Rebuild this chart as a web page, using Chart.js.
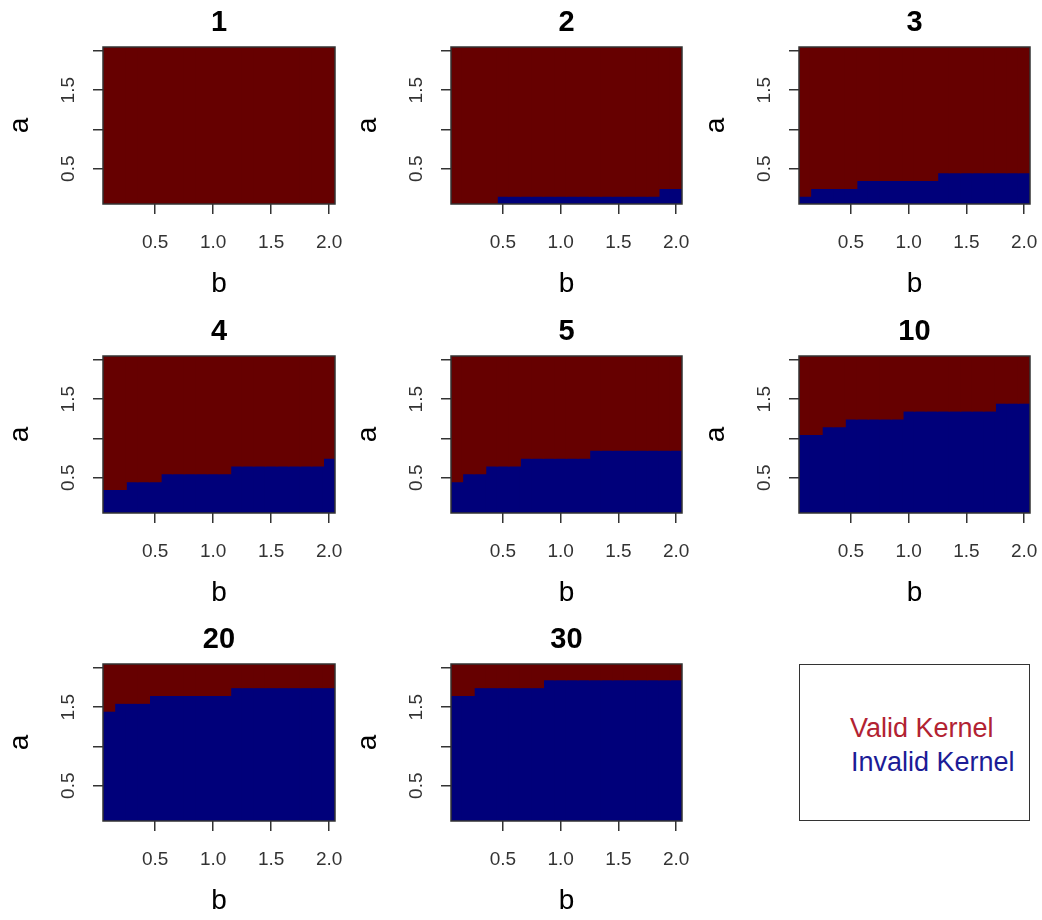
<!DOCTYPE html>
<html lang="en">
<head>
  <meta charset="UTF-8" />
  <title>Kernel validity over (a, b)</title>
  <script src="https://cdn.jsdelivr.net/npm/chart.js"></script>
  <style>
    body {
      margin: 0;
      background: #fff;
      font-family: "Liberation Sans", Arial, sans-serif;
    }
    #grid {
      position: relative;
      width: 1042px;
      height: 920px;
    }
    .panel {
      position: absolute;
    }
    #legendBox {
      position: absolute;
      border: 1.5px solid #333;
      box-sizing: border-box;
    }
    #legendBox span {
      position: absolute;
      font-size: 27px;
      line-height: 34px;
      white-space: nowrap;
    }
  </style>
</head>
<body>
  <div id="grid">
    <div id="legendBox">
      <span id="validLabel"></span>
      <span id="invalidLabel"></span>
    </div>
  </div>

  <script>
    // b grid (columns of every panel)
    const bValues = [0.1, 0.2, 0.3, 0.4, 0.5, 0.6, 0.7, 0.8, 0.9, 1.0,
                     1.1, 1.2, 1.3, 1.4, 1.5, 1.6, 1.7, 1.8, 1.9, 2.0];
    const aStep = 0.1;
    const aMin = 0.05, aMax = 2.05;
    const bMin = 0.05, bMax = 2.05;

    // largest a that is still an invalid kernel, for each b (0 = none)
    const limit1  = [0, 0, 0, 0, 0, 0, 0, 0, 0, 0, 0, 0, 0, 0, 0, 0, 0, 0, 0, 0];
    const limit2  = [0, 0, 0, 0, 0.1, 0.1, 0.1, 0.1, 0.1, 0.1, 0.1, 0.1, 0.1, 0.1, 0.1, 0.1, 0.1, 0.1, 0.2, 0.2];
    const limit3  = [0.1, 0.2, 0.2, 0.2, 0.2, 0.3, 0.3, 0.3, 0.3, 0.3, 0.3, 0.3, 0.4, 0.4, 0.4, 0.4, 0.4, 0.4, 0.4, 0.4];
    const limit4  = [0.3, 0.3, 0.4, 0.4, 0.4, 0.5, 0.5, 0.5, 0.5, 0.5, 0.5, 0.6, 0.6, 0.6, 0.6, 0.6, 0.6, 0.6, 0.6, 0.7];
    const limit5  = [0.4, 0.5, 0.5, 0.6, 0.6, 0.6, 0.7, 0.7, 0.7, 0.7, 0.7, 0.7, 0.8, 0.8, 0.8, 0.8, 0.8, 0.8, 0.8, 0.8];
    const limit10 = [1.0, 1.0, 1.1, 1.1, 1.2, 1.2, 1.2, 1.2, 1.2, 1.3, 1.3, 1.3, 1.3, 1.3, 1.3, 1.3, 1.3, 1.4, 1.4, 1.4];
    const limit20 = [1.4, 1.5, 1.5, 1.5, 1.6, 1.6, 1.6, 1.6, 1.6, 1.6, 1.6, 1.7, 1.7, 1.7, 1.7, 1.7, 1.7, 1.7, 1.7, 1.7];
    const limit30 = [1.6, 1.6, 1.7, 1.7, 1.7, 1.7, 1.7, 1.7, 1.8, 1.8, 1.8, 1.8, 1.8, 1.8, 1.8, 1.8, 1.8, 1.8, 1.8, 1.8];

    const panelTitles = ["1", "2", "3", "4", "5", "10", "20", "30"];
    const panelLimits = [limit1, limit2, limit3, limit4, limit5, limit10, limit20, limit30];

    const xTicks = [0.5, 1.0, 1.5, 2.0];
    const yTicks = [0.5, 1.0, 1.5, 2.0];
    const yTickLabels = ["0.5", "", "1.5", ""];

    const legendLabels = ["Valid Kernel", "Invalid Kernel"];

    const validColor = "#660000";
    const invalidColor = "#00007a";

    // panel layout (plot region of each cell)
    const plotLeft = [103, 451, 799];
    const plotTop = [47, 356, 664];
    const plotW = [232, 231, 231];
    const plotH = 157;
    const leftRoom = 103, topRoom = 47, bottomRoom = 100, rightRoom = 30;

    Chart.defaults.font.family = '"Liberation Sans", Arial, sans-serif';

    const boxPlugin = {
      id: "plotBox",
      afterDatasetsDraw(chart) {
        const { ctx, chartArea: a } = chart;
        ctx.save();
        ctx.strokeStyle = "#333";
        ctx.lineWidth = 1.5;
        ctx.strokeRect(a.left, a.top, a.right - a.left, a.bottom - a.top);
        ctx.restore();
      }
    };

    function makePanel(i) {
      const col = i % 3, row = Math.floor(i / 3);
      const limits = panelLimits[i];

      const holder = document.createElement("div");
      holder.className = "panel";
      const w = leftRoom + plotW[col] + rightRoom;
      const h = topRoom + plotH + bottomRoom;
      holder.style.left = (plotLeft[col] - leftRoom) + "px";
      holder.style.top = (plotTop[row] - topRoom) + "px";
      const canvas = document.createElement("canvas");
      canvas.width = w;
      canvas.height = h;
      holder.appendChild(canvas);
      document.getElementById("grid").appendChild(holder);

      const invalidBars = bValues.map((b, j) => ({ x: b, y: [aMin, limits[j] + aStep / 2] }));
      const validBars = bValues.map((b, j) => ({ x: b, y: [limits[j] + aStep / 2, aMax] }));

      // valid cells first, invalid on top; slight inflate hides the seams between columns
      new Chart(canvas, {
        type: "bar",
        data: {
          datasets: [
            { label: legendLabels[0], data: validBars, backgroundColor: validColor,
              grouped: false, barPercentage: 1, categoryPercentage: 1, borderWidth: 0, inflateAmount: 0.6 },
            { label: legendLabels[1], data: invalidBars, backgroundColor: invalidColor,
              grouped: false, barPercentage: 1, categoryPercentage: 1, borderWidth: 0, inflateAmount: 0.6 }
          ]
        },
        options: {
          responsive: false,
          animation: false,
          layout: { padding: { left: 0, top: 0, right: rightRoom, bottom: 0 } },
          plugins: {
            legend: { display: false },
            tooltip: { enabled: false },
            title: {
              display: true,
              text: panelTitles[i],
              fullSize: false,
              color: "#000",
              font: { size: 29, weight: "bold" },
              padding: { top: 5.5, bottom: 6.7 }
            }
          },
          scales: {
            x: {
              type: "linear",
              min: bMin,
              max: bMax,
              offset: false,
              afterBuildTicks: s => { s.ticks = xTicks.map(v => ({ value: v })); },
              afterFit: s => { s.height = bottomRoom; },
              grid: { drawOnChartArea: false, offset: false, tickLength: 10, color: "#333", lineWidth: 1.5 },
              border: { display: false },
              ticks: {
                autoSkip: false,
                maxRotation: 0,
                padding: 17.3,
                color: "#333",
                font: { size: 19 },
                callback: v => v.toFixed(1)
              },
              title: { display: true, text: "b", color: "#000", font: { size: 28 }, padding: { top: 0, bottom: 2.5 } }
            },
            y: {
              min: aMin,
              max: aMax,
              afterBuildTicks: s => { s.ticks = yTicks.map(v => ({ value: v })); },
              afterFit: s => { s.width = leftRoom; },
              grid: { drawOnChartArea: false, tickLength: 10, color: "#333", lineWidth: 1.5 },
              border: { display: false },
              ticks: {
                autoSkip: false,
                minRotation: 90,
                maxRotation: 90,
                crossAlign: "center",
                padding: 11.5,
                color: "#333",
                font: { size: 19 },
                callback: v => yTickLabels[yTicks.indexOf(v)]
              },
              title: { display: true, text: "a", color: "#000", font: { size: 28 }, padding: { top: 3.5, bottom: 0 } }
            }
          }
        },
        plugins: [boxPlugin]
      });
    }

    panelTitles.forEach((t, i) => makePanel(i));

    // legend cell in the last grid slot
    const box = document.getElementById("legendBox");
    box.style.left = plotLeft[2] + "px";
    box.style.top = plotTop[2] + "px";
    box.style.width = plotW[2] + "px";
    box.style.height = plotH + "px";

    const valid = document.getElementById("validLabel");
    valid.textContent = legendLabels[0];
    valid.style.color = "#b22232";
    valid.style.left = "50px";
    valid.style.top = "46px";

    const invalid = document.getElementById("invalidLabel");
    invalid.textContent = legendLabels[1];
    invalid.style.color = "#1c1c96";
    invalid.style.left = "51px";
    invalid.style.top = "80px";
  </script>
</body>
</html>
